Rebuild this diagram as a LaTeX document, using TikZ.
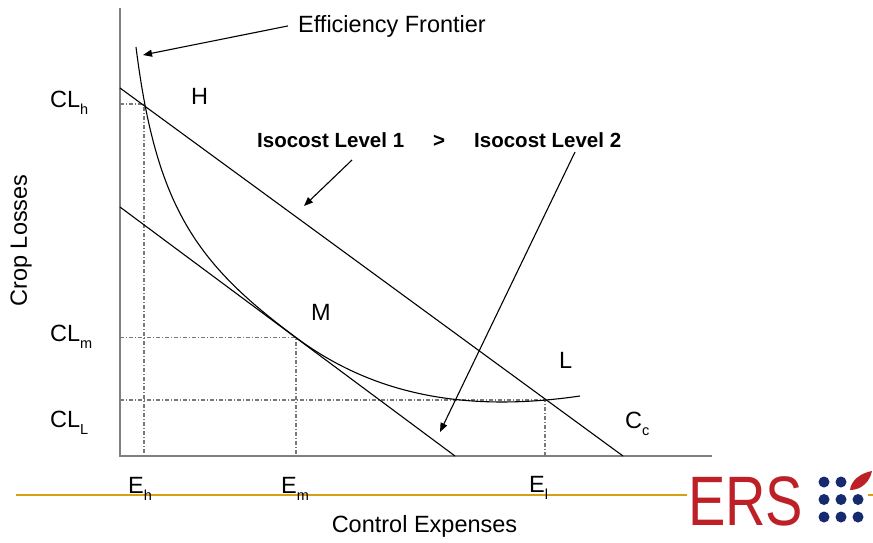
\documentclass[tikz,border=0pt]{standalone}
\usepackage{fontspec}
\setmainfont{Liberation Sans}
\usetikzlibrary{arrows.meta}
\definecolor{axisgray}{RGB}{128,128,128}
\definecolor{guidegray}{RGB}{120,120,120}
\definecolor{goldline}{RGB}{214,160,20}
\definecolor{ersred}{RGB}{190,32,40}
\definecolor{ersblue}{RGB}{22,42,112}
\newcommand\sbs[1]{\raisebox{-7pt}{\fontsize{14.5}{14.5}\selectfont #1}}
\begin{document}
\begin{tikzpicture}[x=1pt,y=-1pt,
  lbl/.style={font=\fontsize{23.5}{26}\selectfont, inner sep=0pt, anchor=base west},
  boldlbl/.style={font=\fontsize{20.5}{24}\selectfont\bfseries, inner sep=0pt, anchor=base west},
  axisline/.style={draw=axisgray, line width=2pt},
  guide/.style={draw=guidegray, line width=1.2pt, dash pattern=on 4pt off 2pt on 1pt off 2pt},
  thinline/.style={draw=black, line width=1.1pt},
  pointer/.style={draw=black, line width=1.1pt, -{Triangle[length=9pt,width=7pt]}},
  dot/.style={fill=ersblue, circle, inner sep=0pt, minimum size=11pt}]
\useasboundingbox (0,0) rectangle (873,542);

% gold rule and logo background
\draw[goldline, line width=2.5pt] (16,495) -- (873,495);
\fill[white] (687,466) rectangle (868,534);

% axes
\coordinate (O) at (120,456);
\coordinate (ytop) at (120,8);
\coordinate (xend) at (712,456);
\draw[axisline] (ytop) -- (O) -- (xend);

% key points
\coordinate (H) at (144,104);
\coordinate (Mp) at (296,337.5);
\coordinate (Lp) at (545,400);

% guide lines
\draw[guide] (120,104) -- (H) -- (144,456);
\draw[guide] (120,337.5) -- (Mp) -- (296,456);
\draw[guide] (120,400) -- (Lp) -- (545,456);

% isocost lines
\coordinate (i1a) at (120,88);
\coordinate (i1b) at (623,456);
\coordinate (i2a) at (120,207);
\coordinate (i2b) at (455,456);
\draw[thinline] (i1a) -- (i1b);
\draw[thinline] (i2a) -- (i2b);

% efficiency frontier
\coordinate (fstart) at (136,47);
\coordinate (fend) at (580,396);
\draw[thinline] (fstart) .. controls (156,207) and (196,263.2) .. (Mp)
  .. controls (376,397) and (470,412) .. (fend);

% labels
\node[lbl] (ef) at (298,32) {Efficiency Frontier};
\node[lbl] (clh) at (50,107) {CL\sbs{h}};
\node[lbl] (clm) at (50,341) {CL\sbs{m}};
\node[lbl] (cll) at (50,427) {CL\sbs{L}};
\node[lbl] (hl) at (191,104) {H};
\node[lbl] (ml) at (311,320) {M};
\node[lbl] (ll) at (559,368) {L};
\node[lbl] (cc) at (625,428) {C\sbs{c}};
\node[lbl] (eh) at (128,493) {E\sbs{h}};
\node[lbl] (em) at (281,493) {E\sbs{m}};
\node[lbl] (el) at (529,492) {E\sbs{l}};
\node[lbl, anchor=base] (ce) at (424.5,532) {Control Expenses};
\node[lbl, anchor=base, rotate=90] (cl) at (27,240.5) {Crop Losses};
\node[boldlbl] (iso1) at (257,147) {Isocost Level 1};
\node[boldlbl] (gt) at (433,147) {>};
\node[boldlbl] (iso2) at (474,147) {Isocost Level 2};

% pointers
\coordinate (efTip) at (143,55);
\coordinate (a1s) at (352,160);
\coordinate (a1e) at (304,206);
\coordinate (a2s) at (575,152);
\coordinate (a2e) at (440,432);
\draw[pointer] ([xshift=-10pt]ef.west) -- (efTip);
\draw[pointer] (a1s) -- (a1e);
\draw[pointer] (a2s) -- (a2e);

% ERS logo
\node[inner sep=0pt, anchor=base west, text=ersred] (ers) at (688,525)
  {\scalebox{0.8}[1]{\fontsize{70}{70}\selectfont ERS}};
\node[dot] (d11) at (824,482) {};
\node[dot] (d12) at (841,482) {};
\node[dot] (d21) at (824,499.5) {};
\node[dot] (d22) at (841,499.5) {};
\node[dot] (d23) at (858,499.5) {};
\node[dot] (d31) at (824,517) {};
\node[dot] (d32) at (841,517) {};
\node[dot] (d33) at (858,517) {};
\fill[ersred] (850,490) .. controls (851,480) and (861,473) .. (872,471)
  .. controls (870,481) and (862,490) .. (850,490) -- cycle;
\end{tikzpicture}
\end{document}
